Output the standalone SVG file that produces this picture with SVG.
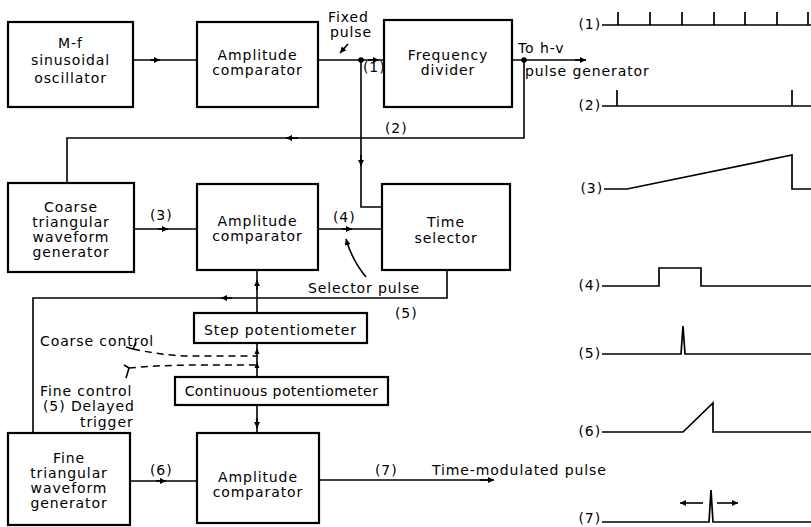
<svg xmlns="http://www.w3.org/2000/svg" width="811" height="527" viewBox="0 0 811 527">
<style>
text{font-family:"DejaVu Sans","Liberation Sans",sans-serif;font-size:14px;letter-spacing:0.9px;fill:#000}
.c{text-anchor:middle}
.e{text-anchor:end}
.box{fill:none;stroke:#000;stroke-width:2.2}
.ln{fill:none;stroke:#000;stroke-width:1.6}
.ar{fill:none;stroke:#000;stroke-width:1.6;marker-end:url(#arr)}
.ds{fill:none;stroke:#000;stroke-width:1.5;stroke-dasharray:7,5}
.wf{fill:none;stroke:#000;stroke-width:1.7;stroke-linejoin:miter}
</style>
<defs>
<marker id="arr" viewBox="0 0 10 10" refX="10" refY="5" markerWidth="9" markerHeight="6" markerUnits="userSpaceOnUse" orient="auto">
<path d="M0,0 L10,5 L0,10 z" fill="#000"/>
</marker>
</defs>
<rect width="811" height="527" fill="#fff"/>

<g id="osc"><rect class="box" x="8" y="22" width="125" height="85"/>
<text class="c" x="70.5" y="48">M-f</text><text class="c" x="70.5" y="65">sinusoidal</text><text class="c" x="70.5" y="83">oscillator</text></g>

<g id="amp1"><rect class="box" x="197" y="22" width="121" height="85"/>
<text class="c" x="257.5" y="60">Amplitude</text><text class="c" x="257.5" y="75">comparator</text></g>

<g id="freq"><rect class="box" x="384" y="20" width="128" height="87"/>
<text class="c" x="448" y="60">Frequency</text><text class="c" x="448" y="75">divider</text></g>

<g id="coarse"><rect class="box" x="8" y="183" width="126" height="89"/>
<text class="c" x="71" y="212">Coarse</text><text class="c" x="71" y="227">triangular</text><text class="c" x="71" y="242">waveform</text><text class="c" x="71" y="257">generator</text></g>

<g id="amp2"><rect class="box" x="197" y="184" width="121" height="86"/>
<text class="c" x="257.5" y="226">Amplitude</text><text class="c" x="257.5" y="241">comparator</text></g>

<g id="timesel"><rect class="box" x="382" y="184" width="128" height="86"/>
<text class="c" x="446" y="227">Time</text><text class="c" x="446" y="243">selector</text></g>

<g id="steppot"><rect class="box" x="194" y="313" width="173" height="30"/>
<text class="c" x="280.5" y="335">Step  potentiometer</text></g>

<g id="contpot"><rect class="box" x="175" y="377" width="213" height="28"/>
<text class="c" x="281.5" y="396" style="letter-spacing:0.4px">Continuous potentiometer</text></g>

<g id="fine"><rect class="box" x="8" y="433" width="122" height="92"/>
<text class="c" x="69" y="463">Fine</text><text class="c" x="69" y="478">triangular</text><text class="c" x="69" y="493">waveform</text><text class="c" x="69" y="508">generator</text></g>

<g id="amp3"><rect class="box" x="197" y="433" width="122" height="90"/>
<text class="c" x="258" y="482">Amplitude</text><text class="c" x="258" y="497">comparator</text></g>

<g id="connectors">
<path class="ln" d="M133,60 H197"/><path class="ar" d="M150,60 H160"/>
<path class="ln" d="M318,60 H384"/><path class="ar" d="M368,60 H379"/>
<circle cx="361" cy="60" r="2.8"/>
<path class="ar" d="M348,44 L340,53"/>
<path class="ln" d="M512,60 H585"/><path class="ar" d="M575,60 H586"/>
<circle cx="524" cy="60" r="2.8"/>
<path class="ln" d="M361,60 V207 H382"/><path class="ar" d="M361,155 V166"/>
<path class="ln" d="M524,60 V138 H67 V183"/><path class="ar" d="M298,138 H286"/>
<path class="ln" d="M134,229 H197"/><path class="ar" d="M158,229 H168"/>
<path class="ln" d="M318,229 H382"/><path class="ar" d="M342,229 H352"/>
<path class="ar" d="M366,277 Q352,260 346,239"/>
<path class="ln" d="M447,270 V298 H33 V433"/><path class="ar" d="M232,298 H221"/>
<path class="ln" d="M257,313 V270"/><path class="ar" d="M257,290 V280"/>
<path class="ln" d="M257,343 V377"/>
<path d="M257,348 L254.5,354 L259.5,354 z"/>
<path d="M257,362 L254.5,368 L259.5,368 z"/>
<path class="ln" d="M257,405 V433"/><path class="ar" d="M257,418 V428"/>
<path class="ln" d="M130,481 H197"/><path class="ar" d="M156,481 H166"/>
<path class="ln" d="M319,480 H493"/><path class="ar" d="M480,480 H494"/>
<path class="ln" d="M126,347 L133,349 M136,342 L133,349"/>
<path class="ds" d="M133,349 Q170,357 200,356 L257,356"/>
<path class="ln" d="M124,365 L129,368 M126,378 L129,368"/>
<path class="ds" d="M129,368 Q160,365 200,365 L257,365"/>
</g>

<g id="labels">
<text x="328" y="22">Fixed</text><text x="330" y="37">pulse</text>
<text x="363" y="72">(1)</text>
<text x="518" y="53">To h-v</text>
<text x="525" y="76">pulse generator</text>
<text x="385" y="133">(2)</text>
<text x="150" y="220">(3)</text>
<text x="333" y="222">(4)</text>
<text x="308" y="293">Selector pulse</text>
<text x="395" y="318">(5)</text>
<text x="40" y="346">Coarse control</text>
<text x="40" y="396">Fine control</text>
<text x="43" y="411">(5) Delayed</text>
<text x="80" y="427">trigger</text>
<text x="150" y="475">(6)</text>
<text x="375" y="475">(7)</text>
<text x="432" y="475">Time-modulated pulse</text>
</g>

<g id="waveforms">
<text class="e" x="601" y="29">(1)</text>
<path class="wf" d="M602,25 H811 M618,25 V12 M650,25 V12 M682,25 V12 M714,25 V12 M745,25 V12 M777,25 V12 M808,25 V12"/>
<text class="e" x="601" y="110">(2)</text>
<path class="wf" d="M602,106 H811 M617,106 V90 M792,106 V90"/>
<text class="e" x="603" y="193">(3)</text>
<path class="wf" d="M604,189 H627 L792,155 V189 H811"/>
<text class="e" x="601" y="290">(4)</text>
<path class="wf" d="M602,286 H659 V268 H701 V286 H811"/>
<text class="e" x="601" y="358">(5)</text>
<path class="wf" d="M602,354 H681 L683,326 L685,354 H811"/>
<text class="e" x="601" y="436">(6)</text>
<path class="wf" d="M602,432 H683 L713,403 V432 H811"/>
<text class="e" x="601" y="523">(7)</text>
<path class="wf" d="M602,522 H709 L711,490 L713,522 H811"/>
<path class="ar" d="M703,503 H680"/><path class="ar" d="M717,503 H738"/>
</g>
</svg>
